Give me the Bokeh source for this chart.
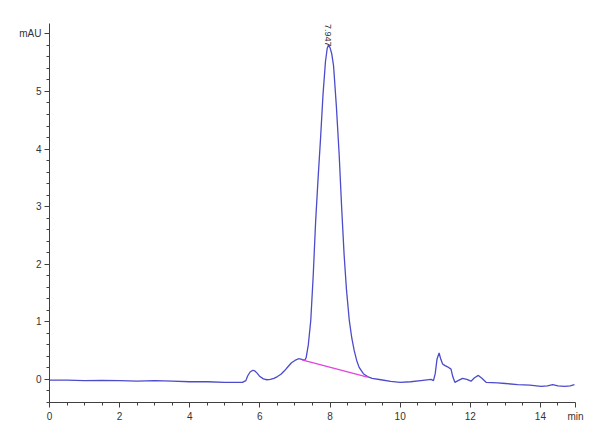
import math
from bokeh.plotting import figure
from bokeh.models import Range1d, FixedTicker, Label
from bokeh.embed import file_html
from bokeh.resources import INLINE

# Retention time (min) and signal (mAU)
time_min = [0.0, 0.5, 1.0, 1.5, 2.0, 2.5, 3.0, 3.5, 4.0, 4.5, 5.0, 5.3, 5.5,
            5.6, 5.65, 5.72, 5.8, 5.85, 5.92, 6.0, 6.1, 6.2, 6.3, 6.4,
            6.5, 6.6, 6.7, 6.8, 6.9, 7.0, 7.1, 7.2, 7.28, 7.32,
            7.38, 7.45, 7.52, 7.59, 7.66, 7.73, 7.8, 7.87, 7.92, 7.96, 8.0,
            8.05, 8.1, 8.18, 8.26, 8.33, 8.4, 8.47, 8.55, 8.62, 8.69, 8.76,
            8.83, 8.95, 9.07, 9.2, 9.45, 9.73, 10.0, 10.3, 10.59, 10.88,
            10.95, 11.0, 11.05, 11.11, 11.16, 11.21, 11.28, 11.35, 11.45,
            11.5, 11.56, 11.65, 11.78, 11.9, 12.02, 12.12, 12.23, 12.33,
            12.45, 12.78, 13.0, 13.35, 13.7, 14.02, 14.2, 14.35, 14.5,
            14.69, 14.85, 14.97]
signal_mau = [-0.01, -0.01, -0.02, -0.015, -0.02, -0.03, -0.02, -0.03, -0.04, -0.04, -0.05, -0.05, -0.05,
              -0.02, 0.06, 0.13, 0.16, 0.15, 0.11, 0.05, 0.01, -0.005, 0.0, 0.02,
              0.05, 0.09, 0.15, 0.22, 0.29, 0.33, 0.36, 0.35, 0.33, 0.38,
              0.6, 1.02, 1.8, 2.75, 3.5, 4.19, 4.95, 5.52, 5.75, 5.81, 5.76,
              5.65, 5.45, 4.75, 3.91, 3.0, 2.18, 1.55, 1.02, 0.72, 0.5, 0.33,
              0.21, 0.1, 0.05, 0.02, -0.005, -0.035, -0.05, -0.04, -0.02, 0.0,
              -0.02, 0.1, 0.35, 0.46, 0.35, 0.27, 0.24, 0.22, 0.18,
              0.05, -0.05, -0.02, 0.02, 0.0, -0.03, 0.03, 0.07, 0.02,
              -0.05, -0.06, -0.07, -0.09, -0.1, -0.12, -0.11, -0.09, -0.11,
              -0.12, -0.11, -0.09]

# Integration baseline of the main peak
baseline_t = [7.2, 9.07]
baseline_y = [0.34, 0.04]

peak_rt = 7.947
peak_label = "7.947"

x_ticks = [0, 2, 4, 6, 8, 10, 12, 14, 15]
y_ticks = [0, 1, 2, 3, 4, 5, 6]
y_unit = "mAU"
x_unit = "min"

FONT = "Liberation Sans"
LINE = "#4b4bcc"
AX = "#404040"

p = figure(width=592, height=432, output_backend="svg", toolbar_location=None,
           x_range=Range1d(0, 15), y_range=Range1d(-0.4, 6.18),
           min_border_left=49, min_border_right=17, min_border_top=23, min_border_bottom=30)
p.outline_line_color = None
p.xgrid.visible = False
p.ygrid.visible = False
p.background_fill_color = "white"
p.border_fill_color = "white"

p.line(time_min, signal_mau, line_color=LINE, line_width=1.3)
p.line(baseline_t, baseline_y, line_color="#e045e0", line_width=1.3)

x_minor = [i * 0.5 for i in range(0, 30) if (i * 0.5) not in x_ticks]
y_minor = [round(-0.4 + i * 0.2, 2) for i in range(0, 33)]
y_minor = [v for v in y_minor if abs(v - round(v)) > 1e-6]

for ax, ticks, minor in ((p.xaxis[0], x_ticks, x_minor), (p.yaxis[0], y_ticks, y_minor)):
    ax.ticker = FixedTicker(ticks=ticks, minor_ticks=minor)
    ax.axis_line_color = AX
    ax.axis_line_width = 1
    ax.major_tick_line_color = AX
    ax.minor_tick_line_color = AX
    ax.major_tick_line_width = 1
    ax.minor_tick_line_width = 1
    ax.major_tick_out = 5
    ax.major_tick_in = 0
    ax.minor_tick_out = 3
    ax.minor_tick_in = 0
    ax.major_label_text_font = FONT
    ax.major_label_text_font_size = "10px"
    ax.major_label_text_color = "#333333"
    ax.major_label_standoff = 3

p.yaxis[0].major_label_overrides = {6: y_unit}
p.xaxis[0].major_label_overrides = {15: x_unit}

p.add_layout(Label(x=peak_rt, y=6.17, text=peak_label, angle=-math.pi / 2,
                   text_align="left", text_baseline="middle", text_font=FONT,
                   text_font_size="9px", text_color="#333333"))

open("out.html", "w").write(file_html(p, INLINE))
